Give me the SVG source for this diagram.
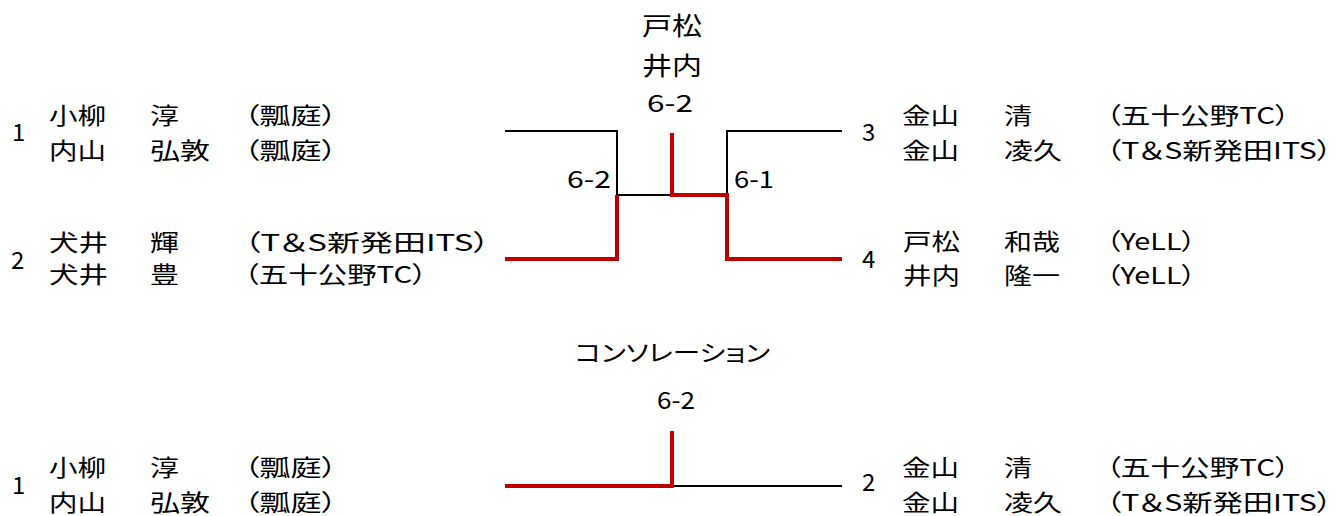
<svg xmlns="http://www.w3.org/2000/svg" width="1337" height="516" viewBox="0 0 1337 516">
<style>
text{font-family:"Noto Sans CJK JP","Noto Sans",sans-serif;fill:#000;font-feature-settings:"palt";font-weight:400;}
.n{font-size:23px;}
.s{font-size:24px;}
.t{font-size:25px;}
.sc{font-size:24px;}
.k{stroke:#000;stroke-width:2;fill:none;}
.r{stroke:#C00000;stroke-width:4;fill:none;}
</style>
<rect width="1337" height="516" fill="#fff"/>
<g id="connectors">
<path class="k" d="M505,131 H617 V195 H672"/>
<path class="k" d="M727,195 V131 H842"/>
<path class="r" d="M505,259 H617 V195"/>
<path class="r" d="M672,133 V195 H727 V259 H842"/>
<path class="k" d="M672,486 H842"/>
<path class="r" d="M505,486 H672 V431"/>
</g>
<g id="final-label">
<text class="t" x="642" y="35" textLength="60" lengthAdjust="spacingAndGlyphs">戸松</text>
<text class="t" x="642" y="75" textLength="60" lengthAdjust="spacingAndGlyphs">井内</text>
<text class="sc" x="647" y="112" textLength="46" lengthAdjust="spacingAndGlyphs">6-2</text>
</g>
<g id="semi-scores">
<text class="sc" x="567" y="188" textLength="44" lengthAdjust="spacingAndGlyphs">6-2</text>
<text class="sc" x="734" y="188" textLength="40" lengthAdjust="spacingAndGlyphs">6-1</text>
</g>
<g id="seed1">
<text class="s" x="12" y="141">1</text>
<text class="n" x="49" y="124" textLength="57" lengthAdjust="spacingAndGlyphs">小柳</text>
<text class="n" x="150" y="124" textLength="29" lengthAdjust="spacingAndGlyphs">淳</text>
<text class="n" x="244" y="124" textLength="93" lengthAdjust="spacingAndGlyphs">（瓢庭）</text>
<text class="n" x="49" y="159" textLength="57" lengthAdjust="spacingAndGlyphs">内山</text>
<text class="n" x="150" y="159" textLength="60" lengthAdjust="spacingAndGlyphs">弘敦</text>
<text class="n" x="244" y="159" textLength="93" lengthAdjust="spacingAndGlyphs">（瓢庭）</text>
</g>
<g id="seed2">
<text class="s" x="11" y="269">2</text>
<text class="n" x="49" y="251" textLength="59" lengthAdjust="spacingAndGlyphs">犬井</text>
<text class="n" x="150" y="251" textLength="29" lengthAdjust="spacingAndGlyphs">輝</text>
<text class="n" x="244" y="251" textLength="246" lengthAdjust="spacingAndGlyphs">（T＆S新発田ITS）</text>
<text class="n" x="49" y="283" textLength="59" lengthAdjust="spacingAndGlyphs">犬井</text>
<text class="n" x="150" y="283" textLength="29" lengthAdjust="spacingAndGlyphs">豊</text>
<text class="n" x="244" y="283" textLength="183" lengthAdjust="spacingAndGlyphs">（五十公野TC）</text>
</g>
<g id="seed3">
<text class="s" x="862" y="141">3</text>
<text class="n" x="902" y="124" textLength="57" lengthAdjust="spacingAndGlyphs">金山</text>
<text class="n" x="1004" y="124" textLength="28" lengthAdjust="spacingAndGlyphs">清</text>
<text class="n" x="1106" y="124" textLength="184" lengthAdjust="spacingAndGlyphs">（五十公野TC）</text>
<text class="n" x="902" y="159" textLength="57" lengthAdjust="spacingAndGlyphs">金山</text>
<text class="n" x="1004" y="159" textLength="58" lengthAdjust="spacingAndGlyphs">凌久</text>
<text class="n" x="1106" y="159" textLength="226" lengthAdjust="spacingAndGlyphs">（T＆S新発田ITS）</text>
</g>
<g id="seed4">
<text class="s" x="862" y="268">4</text>
<text class="n" x="903" y="250" textLength="57" lengthAdjust="spacingAndGlyphs">戸松</text>
<text class="n" x="1004" y="250" textLength="56" lengthAdjust="spacingAndGlyphs">和哉</text>
<text class="n" x="1106" y="250" textLength="90" lengthAdjust="spacingAndGlyphs">（YeLL）</text>
<text class="n" x="903" y="284" textLength="57" lengthAdjust="spacingAndGlyphs">井内</text>
<text class="n" x="1004" y="284" textLength="56" lengthAdjust="spacingAndGlyphs">隆一</text>
<text class="n" x="1106" y="284" textLength="90" lengthAdjust="spacingAndGlyphs">（YeLL）</text>
</g>
<g id="consolation-label">
<text class="n" x="575" y="361" textLength="195" lengthAdjust="spacingAndGlyphs">コンソレーション</text>
<text class="sc" x="657" y="409" textLength="38" lengthAdjust="spacingAndGlyphs">6-2</text>
</g>
<g id="cons-seed1">
<text class="s" x="12" y="494">1</text>
<text class="n" x="49" y="476" textLength="57" lengthAdjust="spacingAndGlyphs">小柳</text>
<text class="n" x="150" y="476" textLength="29" lengthAdjust="spacingAndGlyphs">淳</text>
<text class="n" x="244" y="476" textLength="93" lengthAdjust="spacingAndGlyphs">（瓢庭）</text>
<text class="n" x="49" y="511" textLength="57" lengthAdjust="spacingAndGlyphs">内山</text>
<text class="n" x="150" y="511" textLength="60" lengthAdjust="spacingAndGlyphs">弘敦</text>
<text class="n" x="244" y="511" textLength="93" lengthAdjust="spacingAndGlyphs">（瓢庭）</text>
</g>
<g id="cons-seed2">
<text class="s" x="862" y="491">2</text>
<text class="n" x="902" y="476" textLength="57" lengthAdjust="spacingAndGlyphs">金山</text>
<text class="n" x="1004" y="476" textLength="28" lengthAdjust="spacingAndGlyphs">清</text>
<text class="n" x="1106" y="476" textLength="184" lengthAdjust="spacingAndGlyphs">（五十公野TC）</text>
<text class="n" x="902" y="511" textLength="57" lengthAdjust="spacingAndGlyphs">金山</text>
<text class="n" x="1004" y="511" textLength="58" lengthAdjust="spacingAndGlyphs">凌久</text>
<text class="n" x="1106" y="511" textLength="226" lengthAdjust="spacingAndGlyphs">（T＆S新発田ITS）</text>
</g>
</svg>
